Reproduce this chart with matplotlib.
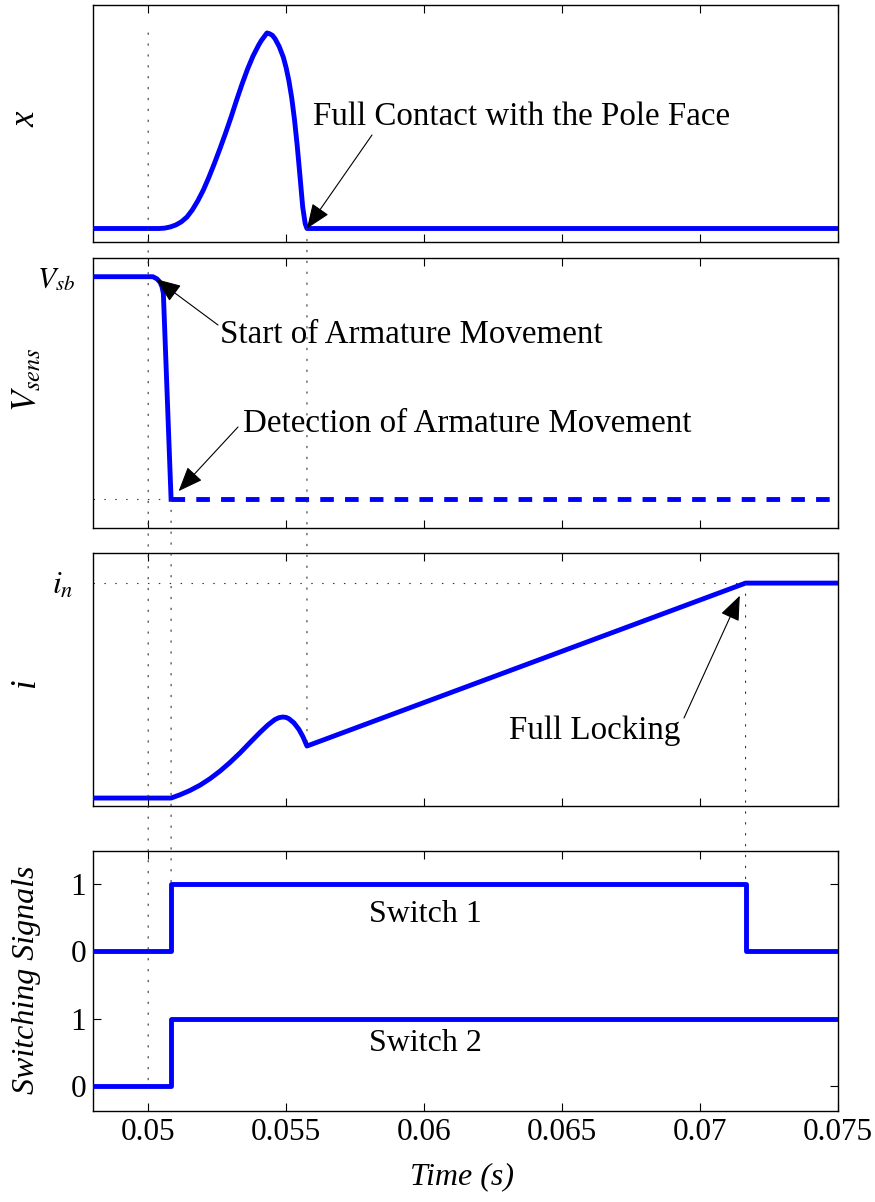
import matplotlib
matplotlib.use("Agg")
import matplotlib.pyplot as plt
from matplotlib.patches import ConnectionPatch

plt.rcParams["font.family"] = ["Liberation Serif", "DejaVu Serif"]
plt.rcParams["mathtext.fontset"] = "stix"

W, H = 875, 1202

# ---------------- data ----------------
t_range = [0.048, 0.075]
time_ticks = [0.05, 0.055, 0.06, 0.065, 0.07, 0.075]
time_tick_labels = ["0.05", "0.055", "0.06", "0.065", "0.07", "0.075"]

t_ref = 0.050        # reference instant
t_move = 0.05017     # start of armature movement
t_detect = 0.05083   # detection of armature movement (switches turned on)
t_contact = 0.055754 # full contact with the pole face
t_lock = 0.07165     # full locking (switch 1 turned off)

# armature displacement x (normalised)
x_t = [0.0480, 0.0504, 0.0506, 0.0508, 0.0510, 0.0512, 0.0514, 0.0516, 0.0518,
       0.0520, 0.0522, 0.0524, 0.0526, 0.0528, 0.0530, 0.0532, 0.0534, 0.0536,
       0.0538, 0.0540, 0.0541, 0.0542, 0.054304, 0.05440, 0.05450, 0.05460,
       0.05475, 0.05490, 0.05500, 0.05510, 0.05520, 0.05530, 0.05540, 0.05550,
       0.05560, 0.05569, 0.055754, 0.0750]
x_v = [0.0, 0.0, 0.002, 0.008, 0.018, 0.034, 0.058, 0.095, 0.142,
       0.197, 0.262, 0.333, 0.408, 0.486, 0.568, 0.655, 0.738, 0.815,
       0.882, 0.937, 0.961, 0.980, 1.000, 0.996, 0.988, 0.970,
       0.930, 0.875, 0.822, 0.755, 0.670, 0.560, 0.425, 0.270,
       0.110, 0.025, 0.0, 0.0]

# sensing voltage (normalised, V_sb = 1)
vs_t = [0.0480, t_move, 0.05032, 0.05043, 0.05050, 0.05055, t_detect]
vs_v = [1.0, 1.0, 0.990, 0.975, 0.955, 0.925, 0.0]
vs_tail_t = [t_detect, 0.0750]
vs_tail_v = [0.0, 0.0]

# coil current (normalised, i_n = 1)
i_t = [0.0480, t_detect, 0.05115, 0.05151, 0.05188, 0.05224, 0.05260, 0.05296,
       0.05333, 0.05369, 0.05405, 0.05434, 0.05459, 0.05474, 0.05488, 0.05500,
       0.05510, 0.05528, 0.05546, 0.05561, t_contact, t_lock, 0.0750]
i_v = [0.0, 0.0, 0.015, 0.035, 0.060, 0.090, 0.125, 0.165,
       0.210, 0.258, 0.305, 0.340, 0.365, 0.374, 0.377, 0.375,
       0.369, 0.350, 0.320, 0.285, 0.242, 1.0, 1.0]

# switching signals
sw1_t = [0.0480, t_detect, t_detect, t_lock, t_lock, 0.0750]
sw1_v = [0, 0, 1, 1, 0, 0]
sw2_t = [0.0480, t_detect, t_detect, 0.0750]
sw2_v = [0, 0, 1, 1]
sw1_offset = 2
sw_ticks = [0, 1, 2, 3]
sw_tick_labels = ["0", "1", "0", "1"]

# ---------------- figure ----------------
BLUE = "#0000ff"
LW = 3.5
FS = 23.8
DOT = dict(color="#333333", lw=0.8, linestyle=(0, (1.3, 8.5)))
ARROW = dict(arrowstyle="-|>,head_length=0.55,head_width=0.22", mutation_scale=28,
             color="k", lw=0.8, shrinkA=0)


def fig_xy(px, py):
    return px / W, 1 - py / H


def frame(top, bottom):
    return [93 / W, 1 - bottom / H, 745 / W, (bottom - top) / H]


fig = plt.figure(figsize=(W / 100, H / 100), dpi=100)
ax1 = fig.add_axes(frame(5, 242))
ax2 = fig.add_axes(frame(258, 528))
ax3 = fig.add_axes(frame(553, 806))
ax4 = fig.add_axes(frame(851, 1111))
axes = [ax1, ax2, ax3, ax4]

for ax in axes:
    ax.set_xlim(t_range)
    ax.set_xticks(time_ticks)
    ax.tick_params(axis="both", direction="in", top=True, right=True,
                   length=6, width=0.8, labelsize=22.5, pad=5)
    for sp in ax.spines.values():
        sp.set_linewidth(1.0)
for ax in axes[:3]:
    ax.tick_params(labelbottom=False)

ax1.set_ylim(-0.069, 1.143)
ax2.set_ylim(-0.129, 1.084)
ax3.set_ylim(-0.037, 1.14)
ax4.set_ylim(-0.371, 3.49)

ax1.set_yticks([])
ax2.set_yticks([1.0])
ax2.set_yticklabels([r"$V_{sb}$"], fontsize=21.5)
ax2.tick_params(axis="y", length=0, pad=13)
ax3.set_yticks([1.0])
ax3.set_yticklabels([r"$i_{n}$"], fontsize=23)
ax3.tick_params(axis="y", length=0, pad=14)
ax4.set_yticks(sw_ticks)
ax4.set_yticklabels(sw_tick_labels)
ax4.set_xticklabels(time_tick_labels)

# reference dotted lines inside panels
ax2.plot([t_range[0], t_detect], [0, 0], **DOT)
ax3.plot([t_range[0], t_lock], [1, 1], **DOT)

# dotted lines running across panels
for (axA, yA, axB, yB, t) in [
    (ax1, 1.0, ax4, 0.0, t_ref),
    (ax2, 0.0, ax4, 3.0, t_detect),
    (ax1, 0.0, ax3, 0.242, t_contact),
    (ax3, 1.0, ax4, 3.0, t_lock),
]:
    con = ConnectionPatch(xyA=(t, yA), coordsA=axA.transData,
                          xyB=(t, yB), coordsB=axB.transData,
                          arrowstyle="-", shrinkA=0, shrinkB=0, **DOT)
    fig.add_artist(con)

# signals
ax1.plot(x_t, x_v, color=BLUE, lw=LW, zorder=3)
ax2.plot(vs_t, vs_v, color=BLUE, lw=LW, zorder=3)
ax2.plot(vs_tail_t, vs_tail_v, color=BLUE, lw=LW, dashes=[2.8, 2.3], zorder=3)
ax3.plot(i_t, i_v, color=BLUE, lw=LW, zorder=3)
ax4.plot(sw1_t, [v + sw1_offset for v in sw1_v], color=BLUE, lw=LW, zorder=3)
ax4.plot(sw2_t, sw2_v, color=BLUE, lw=LW, zorder=3)

# annotations
ax1.annotate("", xy=(t_contact, 0.0), xytext=fig_xy(372, 135),
             textcoords="figure fraction", arrowprops=dict(ARROW, shrinkB=0))
fig.text(*fig_xy(313, 125), "Full Contact with the Pole Face", fontsize=FS,
         ha="left", va="baseline")

ax2.annotate("", xy=(t_move, 1.0), xytext=fig_xy(218, 325),
             textcoords="figure fraction", arrowprops=dict(ARROW, shrinkB=3))
fig.text(*fig_xy(220, 343), "Start of Armature Movement", fontsize=FS,
         ha="left", va="baseline")

ax2.annotate("", xy=(t_detect, 0.0), xytext=fig_xy(238, 427),
             textcoords="figure fraction", arrowprops=dict(ARROW, shrinkB=8))
fig.text(*fig_xy(243, 432), "Detection of Armature Movement", fontsize=FS,
         ha="left", va="baseline")

ax3.annotate("", xy=(t_lock, 1.0), xytext=fig_xy(684, 718),
             textcoords="figure fraction", arrowprops=dict(ARROW, shrinkB=10))
fig.text(*fig_xy(680, 739), "Full Locking", fontsize=FS,
         ha="right", va="baseline")

fig.text(*fig_xy(425, 922), "Switch 1", fontsize=23, ha="center", va="baseline")
fig.text(*fig_xy(425, 1051), "Switch 2", fontsize=23, ha="center", va="baseline")

# axis labels
fig.text(*fig_xy(26, 119), "x", fontsize=25, style="italic", rotation=90,
         ha="center", va="center")
fig.text(*fig_xy(28, 380), r"$V_{sens}$", fontsize=25, rotation=90,
         ha="center", va="center")
fig.text(*fig_xy(26, 683), "i", fontsize=25, style="italic", rotation=90,
         ha="center", va="center")
fig.text(*fig_xy(27, 980), "Switching Signals", fontsize=23, style="italic",
         rotation=90, ha="center", va="center")
fig.text(*fig_xy(462, 1177), "Time (s)", fontsize=23, style="italic",
         ha="center", va="center")

fig.savefig("out.png", dpi=100)
